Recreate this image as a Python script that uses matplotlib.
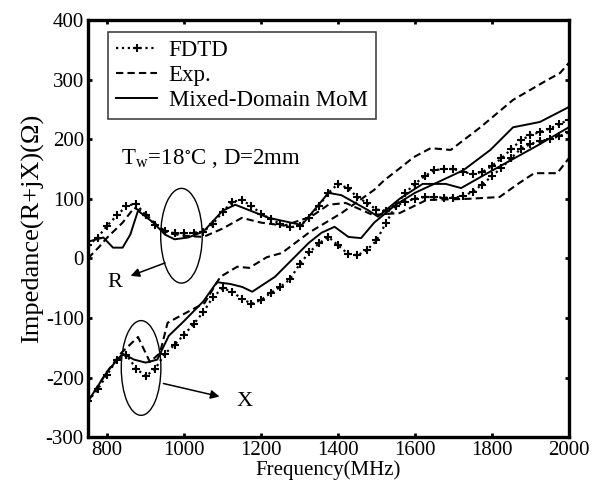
import numpy as np
import matplotlib
matplotlib.use('Agg')
import matplotlib.pyplot as plt
from matplotlib.patches import Ellipse

plt.rcParams['font.family'] = ['Liberation Serif', 'DejaVu Serif']
plt.rcParams['mathtext.fontset'] = 'stix'
plt.rcParams['axes.unicode_minus'] = False

# FDTD (dense, every 25 MHz)
f_fdtd = np.arange(750, 2001, 25)
fdtd_r = [22, 35, 55, 72, 88, 92, 72, 56, 46, 42, 42, 43, 45, 58, 78, 95, 98, 88, 75, 66,
          58, 52, 55, 68, 88, 110, 125, 118, 103, 93, 82, 80, 88, 95, 100, 103, 103, 102, 102, 104,
          112, 124, 138, 152, 168, 184, 192, 197, 200, 205, 212]
fdtd_x = [-240, -220, -195, -170, -162, -185, -198, -185, -160, -145, -128, -110, -90, -65, -50, -56,
          -68, -76, -70, -58, -48, -35, -10, 10, 25, 36, 22, 8, 5, 14, 30, 60, 88, 110, 125, 138,
          148, 150, 150, 145, 142, 145, 155, 168, 183, 198, 207, 212, 218, 225, 233]

# Experiment
f_exp_r = [750, 780, 800, 840, 870, 900, 930, 960, 1000, 1050, 1100, 1150, 1200, 1260, 1330, 1375,
           1420, 1490, 1560, 1630, 1740, 1820, 1870, 1910, 1970, 2000]
exp_r = [0, 20, 35, 60, 85, 75, 55, 42, 38, 36, 50, 68, 60, 55, 70, 90,
         93, 73, 76, 98, 100, 103, 126, 143, 143, 168]
f_exp_x = [750, 800, 836, 880, 911, 937, 957, 1009, 1053, 1094, 1138, 1169, 1215, 1254, 1324, 1409,
           1494, 1520, 1564, 1597, 1641, 1693, 1770, 1855, 1943, 1977, 2000]
exp_x = [-240, -190, -159, -132, -174, -159, -108, -90, -75, -31, -14, -16, 2, 9, 43, 76,
         115, 131, 153, 170, 185, 182, 220, 266, 299, 311, 328]

# Mixed-Domain MoM
f_mom_r = [750, 790, 815, 840, 860, 880, 920, 950, 975, 1010, 1050, 1100, 1133, 1220, 1306, 1375,
           1409, 1478, 1504, 1560, 1620, 1680, 1720, 1780, 1850, 1920, 2000]
mom_r = [28, 35, 18, 18, 40, 80, 60, 40, 32, 35, 45, 80, 90, 68, 56, 110,
         106, 81, 70, 100, 125, 125, 118, 140, 165, 190, 220]
f_mom_x = [750, 800, 840, 870, 900, 930, 960, 1000, 1050, 1085, 1120, 1151, 1177, 1236, 1324, 1357,
           1391, 1427, 1460, 1494, 1550, 1600, 1650, 1726, 1796, 1855, 1925, 2000]
mom_x = [-240, -190, -160, -170, -175, -170, -130, -105, -72, -40, -43, -48, -56, -31, 26, 43,
         53, 36, 34, 60, 90, 110, 125, 148, 182, 220, 229, 254]

fig = plt.figure(figsize=(6.09, 4.90), dpi=100)
ax = fig.add_axes([0.1445, 0.108, 0.7895, 0.851])

fdtd_style = dict(color='black', linestyle=':', linewidth=1.6, marker='+',
                  markersize=5.5, markeredgewidth=1.5)
ax.plot(f_fdtd, fdtd_r, label='FDTD', **fdtd_style)
ax.plot(f_fdtd, fdtd_x, **fdtd_style)
ax.plot(f_exp_r, exp_r, color='black', linestyle='--', linewidth=1.5, dashes=(3.5, 2), label='Exp.')
ax.plot(f_exp_x, exp_x, color='black', linestyle='--', linewidth=1.5, dashes=(3.5, 2))
ax.plot(f_mom_r, mom_r, color='black', linestyle='-', linewidth=1.4, label='Mixed-Domain MoM')
ax.plot(f_mom_x, mom_x, color='black', linestyle='-', linewidth=1.4)

# ellipses and arrows
ax.add_patch(Ellipse((993, 38), 108, 159, fill=False, color='black', linewidth=1.0))
ax.add_patch(Ellipse((888, -184), 103, 159, fill=False, color='black', linewidth=1.0))
ax.annotate('', xy=(854, -31), xytext=(957, -6),
            arrowprops=dict(arrowstyle='-|>', color='black', lw=1.1, mutation_scale=13))
ax.annotate('', xy=(1099, -233), xytext=(939, -209),
            arrowprops=dict(arrowstyle='-|>', color='black', lw=1.1, mutation_scale=13))
ax.text(821, -41, 'R', fontsize=16, ha='center', va='center')
ax.text(1156, -241, 'X', fontsize=16, ha='center', va='center')
ax.text(836, 168, r'T$_\mathregular{w}$=18$^\mathregular{\circ}$C , D=2mm', fontsize=16.5,
        ha='left', va='center')

ax.set_xlim(750, 2000)
ax.set_ylim(-300, 400)
ax.set_xticks(range(800, 2001, 200))
ax.set_yticks(range(-300, 401, 100))
ax.tick_params(direction='in', length=3, width=2, labelsize=15, pad=3,
               top=True, right=True)
for s in ax.spines.values():
    s.set_linewidth(2.4)

ax.set_xlabel('Frequency(MHz)', fontsize=15, labelpad=0)
ax.set_ylabel('Impedance(R+jX)(Ω)', fontsize=19, labelpad=1)

leg = ax.legend(loc='upper left', bbox_to_anchor=(0.0416, 0.971), fontsize=16.5, frameon=True,
                fancybox=False, edgecolor='black', handlelength=1.8, handletextpad=0.5,
                borderpad=0.35, labelspacing=0.17, borderaxespad=0)
leg.get_frame().set_linewidth(1.1)

fig.savefig('out.png', dpi=100)
